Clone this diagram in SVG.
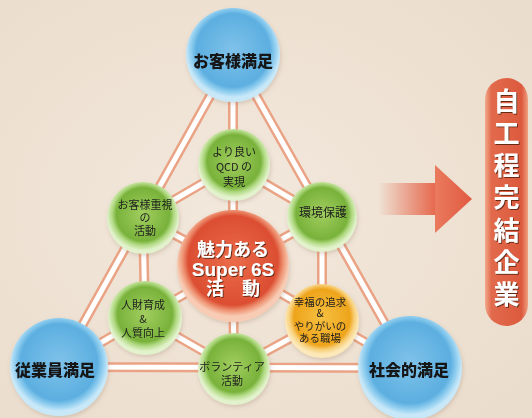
<svg xmlns="http://www.w3.org/2000/svg" width="532" height="418" viewBox="0 0 532 418">
<defs>
<radialGradient id="bg" cx="45%" cy="50%" r="70%">
<stop offset="0" stop-color="#f2e8dc"/><stop offset="1" stop-color="#ebddcd"/>
</radialGradient>
<radialGradient id="blue" cx="50%" cy="45%" r="50%">
<stop offset="0" stop-color="#7fc2ea"/><stop offset="0.78" stop-color="#5cafe0"/><stop offset="0.9" stop-color="#92cff0"/><stop offset="1" stop-color="#c8e8f8"/>
</radialGradient>
<radialGradient id="green" cx="50%" cy="45%" r="50%">
<stop offset="0" stop-color="#a2ce60"/><stop offset="0.74" stop-color="#78b23a"/><stop offset="0.86" stop-color="#b2da84"/><stop offset="1" stop-color="#e2f2cc"/>
</radialGradient>
<radialGradient id="red" cx="50%" cy="45%" r="50%">
<stop offset="0" stop-color="#ea6c4a"/><stop offset="0.8" stop-color="#dc4e32"/><stop offset="0.9" stop-color="#ee9474"/><stop offset="1" stop-color="#f8ccb4"/>
</radialGradient>
<radialGradient id="orange" cx="50%" cy="45%" r="50%">
<stop offset="0" stop-color="#f6c040"/><stop offset="0.76" stop-color="#eea41c"/><stop offset="0.88" stop-color="#f8d07a"/><stop offset="1" stop-color="#fce8b8"/>
</radialGradient>
<linearGradient id="shaft" x1="0" y1="0" x2="1" y2="0">
<stop offset="0" stop-color="#e6674c" stop-opacity="0"/><stop offset="1" stop-color="#e6674c"/>
</linearGradient>
<linearGradient id="head" x1="0" y1="0" x2="1" y2="0">
<stop offset="0" stop-color="#ea7a5e"/><stop offset="1" stop-color="#e05a40"/>
</linearGradient>
<linearGradient id="pill" x1="0" y1="0" x2="1" y2="0">
<stop offset="0" stop-color="#f2a88a"/><stop offset="0.15" stop-color="#e26a4c"/><stop offset="0.85" stop-color="#dc5a3e"/><stop offset="1" stop-color="#f0a080"/>
</linearGradient>
<filter id="sh" x="-20%" y="-20%" width="140%" height="140%">
<feDropShadow dx="1" dy="1" stdDeviation="0.6" flood-color="#5a2010" flood-opacity="0.9"/>
</filter>
<filter id="cs" x="-20%" y="-20%" width="140%" height="140%">
<feDropShadow dx="1" dy="2" stdDeviation="2" flood-color="#8a6a50" flood-opacity="0.25"/>
</filter>
</defs>
<style>
.o{stroke:#eaa385;stroke-width:10;fill:none;stroke-linecap:butt}
.i{stroke:#ffffff;stroke-width:5;fill:none}
.big{font-family:"Noto Sans CJK JP","Noto Sans",sans-serif;font-weight:900;font-size:16px;fill:#151515;text-anchor:middle}
.sm{font-family:"Noto Sans CJK JP","Noto Sans",sans-serif;font-size:11px;fill:#1e1e1e;text-anchor:middle}
.ctr{font-family:"Noto Sans CJK JP","Liberation Sans",sans-serif;font-weight:bold;font-size:18px;fill:#ffffff;text-anchor:middle}
.v{font-family:"Noto Sans CJK JP",sans-serif;font-weight:bold;font-size:26px;fill:#ffffff;text-anchor:middle}
</style>
<rect width="532" height="418" fill="url(#bg)"/>
<g id="connectors">
<g class="o">
<path d="M233 55L59 367M233 55L410 368M59 367L410 368M233 55L233 266M233 266L59 367M233 266L410 368M234 165L143 218M143 218L145 318M145 318L234 369M234 369L322 321M322 321L322 217M322 217L234 165M233 266L143 218M233 266L322 217M233 266L234 369"/>
</g>
<g class="i">
<path d="M233 55L59 367M233 55L410 368M59 367L410 368M233 55L233 266M233 266L59 367M233 266L410 368M234 165L143 218M143 218L145 318M145 318L234 369M234 369L322 321M322 321L322 217M322 217L234 165M233 266L143 218M233 266L322 217M233 266L234 369"/>
</g>
</g>
<g id="arrow">
<rect x="378" y="183" width="58" height="32" fill="url(#shaft)"/>
<path d="M435 165L472 199L435 233Z" fill="url(#head)"/>
</g>
<g id="n-customer" filter="url(#cs)">
<circle cx="233" cy="55" r="47" fill="url(#blue)"/>
<text class="big" x="233" y="67">お客様満足</text>
</g>
<g id="n-employee" filter="url(#cs)">
<circle cx="59" cy="367" r="49" fill="url(#blue)"/>
<text class="big" x="55" y="376">従業員満足</text>
</g>
<g id="n-society" filter="url(#cs)">
<circle cx="410" cy="368" r="52" fill="url(#blue)"/>
<text class="big" x="409" y="376">社会的満足</text>
</g>
<g id="n-qcd" filter="url(#cs)">
<circle cx="234" cy="165" r="36" fill="url(#green)"/>
<text class="sm" x="234" y="156">より良い</text>
<text class="sm" x="234" y="171">QCD の</text>
<text class="sm" x="234" y="186">実現</text>
</g>
<g id="n-cust-act" filter="url(#cs)">
<circle cx="143" cy="218" r="36" fill="url(#green)"/>
<text class="sm" x="145" y="209">お客様重視</text>
<text class="sm" x="145" y="222">の</text>
<text class="sm" x="145" y="235">活動</text>
</g>
<g id="n-env" filter="url(#cs)">
<circle cx="322" cy="217" r="35" fill="url(#green)"/>
<text class="sm" x="323" y="217" style="font-size:12px">環境保護</text>
</g>
<g id="n-hr" filter="url(#cs)">
<circle cx="145" cy="318" r="37" fill="url(#green)"/>
<text class="sm" x="143" y="309">人財育成</text>
<text class="sm" x="143" y="323">&amp;</text>
<text class="sm" x="143" y="337">人質向上</text>
</g>
<g id="n-happy" filter="url(#cs)">
<circle cx="322" cy="321" r="37" fill="url(#orange)"/>
<text class="sm" x="320" y="306" style="font-size:10.5px">幸福の追求</text>
<text class="sm" x="320" y="317" style="font-size:10.5px">&amp;</text>
<text class="sm" x="320" y="330" style="font-size:10.5px">やりがいの</text>
<text class="sm" x="320" y="342" style="font-size:10.5px">ある職場</text>
</g>
<g id="n-vol" filter="url(#cs)">
<circle cx="234" cy="369" r="36" fill="url(#green)"/>
<text class="sm" x="232" y="371">ボランティア</text>
<text class="sm" x="232" y="385">活動</text>
</g>
<g id="n-center" filter="url(#cs)">
<circle cx="233" cy="266" r="56" fill="url(#red)"/>
<g filter="url(#sh)">
<text class="ctr" x="233" y="256">魅力ある</text>
<text class="ctr" x="233" y="276" style="font-family:'Liberation Sans',sans-serif;font-size:19px">Super 6S</text>
<text class="ctr" x="233" y="295">活　動</text>
</g>
</g>
<g id="n-goal">
<rect x="485" y="78" width="43" height="248" rx="21.5" fill="url(#pill)"/>
<g filter="url(#sh)">
<text class="v" x="506.5" y="111">自</text>
<text class="v" x="506.5" y="143">工</text>
<text class="v" x="506.5" y="175">程</text>
<text class="v" x="506.5" y="207">完</text>
<text class="v" x="506.5" y="240">結</text>
<text class="v" x="506.5" y="272">企</text>
<text class="v" x="506.5" y="304">業</text>
</g>
</g>
</svg>
